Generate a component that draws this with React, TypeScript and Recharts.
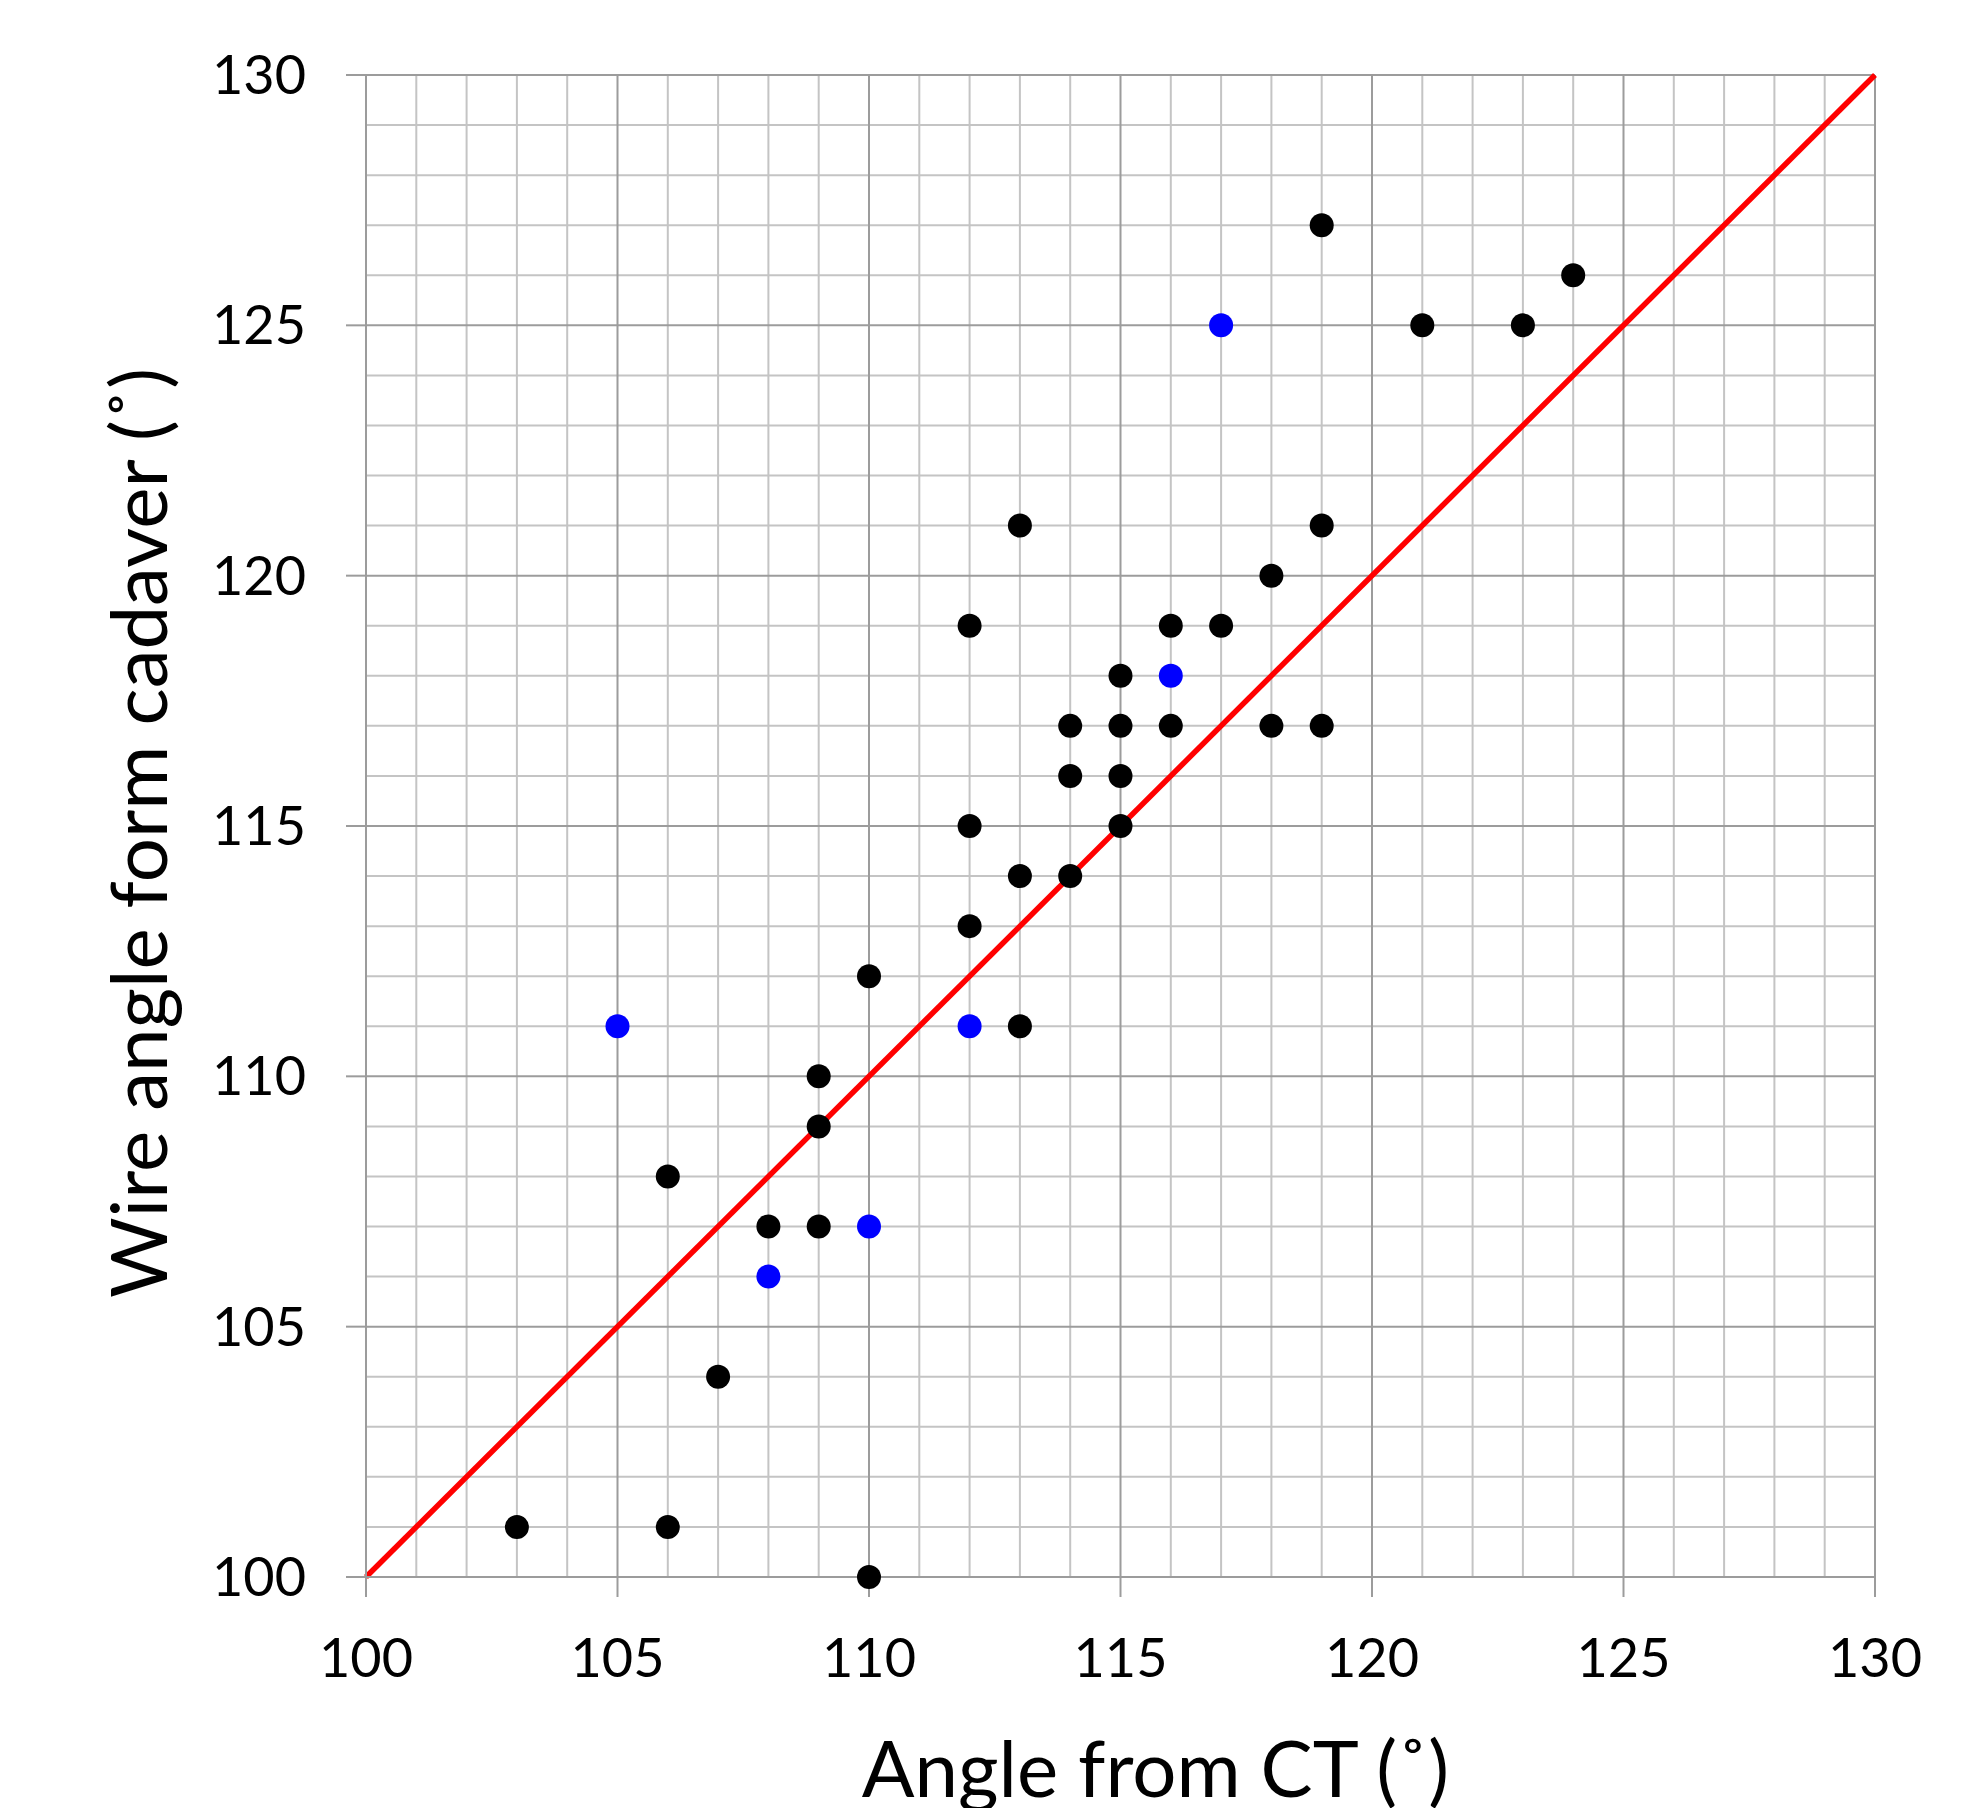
import { ScatterChart, Scatter, XAxis, YAxis, ReferenceLine } from 'recharts';

// angle from CT (x) vs wire angle from cadaver (y)
const blackPoints = [
  { x: 103, y: 101 }, { x: 106, y: 101 }, { x: 110, y: 100 }, { x: 107, y: 104 },
  { x: 106, y: 108 }, { x: 108, y: 107 }, { x: 109, y: 107 }, { x: 109, y: 109 },
  { x: 109, y: 110 }, { x: 110, y: 112 }, { x: 112, y: 113 }, { x: 112, y: 115 },
  { x: 112, y: 119 }, { x: 113, y: 121 }, { x: 113, y: 114 }, { x: 113, y: 111 },
  { x: 114, y: 114 }, { x: 114, y: 116 }, { x: 114, y: 117 }, { x: 115, y: 115 },
  { x: 115, y: 116 }, { x: 115, y: 117 }, { x: 115, y: 118 }, { x: 116, y: 117 },
  { x: 116, y: 119 }, { x: 117, y: 119 }, { x: 118, y: 120 }, { x: 118, y: 117 },
  { x: 119, y: 117 }, { x: 119, y: 121 }, { x: 119, y: 127 }, { x: 121, y: 125 },
  { x: 123, y: 125 }, { x: 124, y: 126 },
];

const bluePoints = [
  { x: 105, y: 111 }, { x: 108, y: 106 }, { x: 110, y: 107 },
  { x: 112, y: 111 }, { x: 116, y: 118 }, { x: 117, y: 125 },
];

// line of identity
const identityLine = [{ x: 100, y: 100 }, { x: 130, y: 130 }];

const majorTicks = [100, 105, 110, 115, 120, 125, 130];
const minorTicks = [
  101, 102, 103, 104, 106, 107, 108, 109, 111, 112, 113, 114, 116, 117, 118, 119,
  121, 122, 123, 124, 126, 127, 128, 129,
];

const xTitle = 'Angle from CT (˚)';
const yTitle = 'Wire angle form cadaver (˚)';

const FONT = 'Lato, "Open Sans", sans-serif';
const MAJOR = '#9c9c9c';
const MINOR = '#c4c4c4';

const dot = (color: string) => (props: any) => (
  <circle cx={props.cx} cy={props.cy} r={12} fill={color} />
);

const XTick = (props: any) => (
  <text x={props.x} y={props.y + 80} textAnchor="middle" fontSize={54} fontFamily={FONT} fill="#000">
    {props.payload.value}
  </text>
);

const YTick = (props: any) => (
  <text x={props.x - 40} y={props.y + 19} textAnchor="end" fontSize={54} fontFamily={FONT} fill="#000">
    {props.payload.value}
  </text>
);

const XTitle = (props: any) => {
  const { x, y, width } = props.viewBox;
  return (
    <text x={x + width / 2 + 35} y={y + 220} textAnchor="middle" fontSize={78} fontFamily={FONT} fill="#000">
      {xTitle}
    </text>
  );
};

const YTitle = (props: any) => {
  const { x, y, height } = props.viewBox;
  const cx = x + 159;
  const cy = y + height / 2 + 7;
  return (
    <text x={cx} y={cy} textAnchor="middle" fontSize={78} fontFamily={FONT} fill="#000"
      transform={`rotate(-90, ${cx}, ${cy})`}>
      {yTitle}
    </text>
  );
};

export default function App() {
  return (
    <div style={{ width: 1969, height: 1800, background: '#fff' }}>
      <ScatterChart width={1969} height={1800} margin={{ top: 67, right: 102, left: 0, bottom: 0 }}>
        <XAxis
          type="number"
          dataKey="x"
          domain={[100, 130]}
          ticks={majorTicks}
          height={231}
          tickSize={20}
          tickMargin={0}
          tick={<XTick />}
          axisLine={{ stroke: MAJOR, strokeWidth: 2 }}
          tickLine={{ stroke: MAJOR, strokeWidth: 2 }}
          label={{ value: xTitle, content: <XTitle /> }}
        />
        <YAxis
          type="number"
          dataKey="y"
          domain={[100, 130]}
          ticks={majorTicks}
          width={358}
          tickSize={20}
          tickMargin={0}
          tick={<YTick />}
          axisLine={{ stroke: MAJOR, strokeWidth: 2 }}
          tickLine={{ stroke: MAJOR, strokeWidth: 2 }}
          label={{ value: yTitle, content: <YTitle /> }}
        />
        {minorTicks.map((v) => (
          <ReferenceLine key={`mx${v}`} x={v} stroke={MINOR} strokeWidth={2} />
        ))}
        {minorTicks.map((v) => (
          <ReferenceLine key={`my${v}`} y={v} stroke={MINOR} strokeWidth={2} />
        ))}
        {majorTicks.map((v) => (
          <ReferenceLine key={`Mx${v}`} x={v} stroke={MAJOR} strokeWidth={2} />
        ))}
        {majorTicks.map((v) => (
          <ReferenceLine key={`My${v}`} y={v} stroke={MAJOR} strokeWidth={2} />
        ))}
        <ReferenceLine segment={identityLine} stroke="#ff0000" strokeWidth={5.5} ifOverflow="visible" />
        <Scatter data={blackPoints} fill="#000" shape={dot('#000000')} isAnimationActive={false} />
        <Scatter data={bluePoints} fill="#0000ff" shape={dot('#0000ff')} isAnimationActive={false} />
      </ScatterChart>
    </div>
  );
}
